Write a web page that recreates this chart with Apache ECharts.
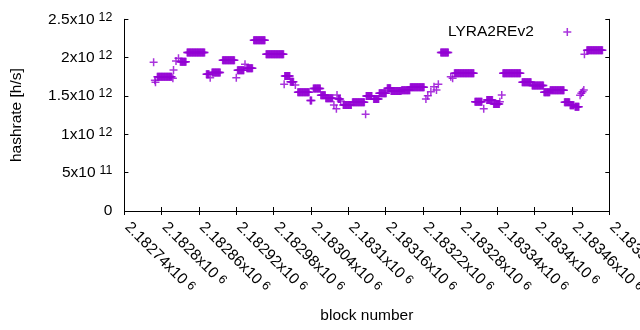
<!DOCTYPE html>
<html>
<head>
<meta charset="utf-8">
<script src="https://cdn.jsdelivr.net/npm/echarts@6/dist/echarts.min.js"></script>
<style>
  html, body { margin: 0; padding: 0; background: #fff; }
  #chart { width: 640px; height: 330px; }
</style>
</head>
<body>
<div id="chart"></div>
<script>
// hashrate stays flat over runs of blocks: first block, last block, value (x10^12 h/s)
const runStart = [
  2182787, 2182789, 2182790, 2182793, 2182818, 2182819, 2182823, 2182827, 2182830, 2182841,
  2182872, 2182878, 2182881, 2182898, 2182920, 2182922, 2182934, 2182937, 2182948, 2182968,
  2182997, 2182998, 2183007, 2183015, 2183019, 2183039, 2183044, 2183056, 2183064, 2183077,
  2183081, 2183082, 2183084, 2183088, 2183092, 2183107, 2183128, 2183129, 2183141, 2183150,
  2183163, 2183169, 2183186, 2183200, 2183225, 2183228, 2183233, 2183238, 2183242, 2183245,
  2183249, 2183265, 2183268, 2183271, 2183304, 2183318, 2183323, 2183334, 2183344, 2183347,
  2183349, 2183380, 2183396, 2183415, 2183425, 2183448, 2183457, 2183465, 2183473, 2183475,
  2183477, 2183479, 2183480, 2183484
]
const runEnd = [
  2182787, 2182789, 2182790, 2182816, 2182818, 2182819, 2182823, 2182827, 2182839, 2182869,
  2182876, 2182878, 2182894, 2182917, 2182920, 2182932, 2182934, 2182946, 2182966, 2182996,
  2182997, 2183006, 2183012, 2183015, 2183037, 2183041, 2183055, 2183063, 2183075, 2183077,
  2183081, 2183082, 2183087, 2183088, 2183105, 2183126, 2183128, 2183138, 2183149, 2183161,
  2183168, 2183185, 2183199, 2183222, 2183225, 2183228, 2183233, 2183238, 2183242, 2183245,
  2183261, 2183265, 2183268, 2183302, 2183315, 2183318, 2183332, 2183343, 2183344, 2183347,
  2183377, 2183394, 2183414, 2183424, 2183447, 2183456, 2183463, 2183471, 2183473, 2183475,
  2183477, 2183479, 2183480, 2183509
]
const runValue = [
  1.939, 1.705, 1.678, 1.751, 1.730, 1.839, 1.956, 1.991, 1.947, 2.067,
  1.783, 1.738, 1.806, 1.965, 1.738, 1.835, 1.913, 1.861, 2.226, 2.043,
  1.652, 1.762, 1.685, 1.643, 1.548, 1.440, 1.598, 1.511, 1.470, 1.382,
  1.335, 1.513, 1.460, 1.434, 1.382, 1.417, 1.261, 1.500, 1.460, 1.535,
  1.600, 1.565, 1.574, 1.613, 1.460, 1.504, 1.556, 1.621, 1.578, 1.652,
  2.068, 1.751, 1.730, 1.795, 1.425, 1.334, 1.447, 1.395, 1.425, 1.513,
  1.795, 1.678, 1.636, 1.548, 1.576, 1.417, 1.380, 1.360, 1.510, 1.534,
  1.556, 1.578, 2.043, 2.095
]
const seriesName = 'LYRA2REv2'
const xMin = 2182740
const xMax = 2183520
const xStep = 60
const yMax = 2.5e12
const yStep = 5e11

const purple = '#9400d3'
const font = 'Liberation Sans'
// gnuplot "+" point, drawn as a filled cross
const plus = 'path://M3.25,0h1.5v3.25h3.25v1.5h-3.25v3.25h-1.5v-3.25h-3.25v-1.5h3.25z'

// one point per block
const points = []
runStart.forEach((s, i) => {
  for (let b = s; b <= runEnd[i]; b++) points.push([b, runValue[i] * 1e12])
})

// gnuplot style 2.5x10^12
function sci (v) {
  if (v === 0) return '{b|0}'
  const e = Math.floor(Math.log10(v) + 1e-9)
  const m = parseFloat((v / Math.pow(10, e)).toPrecision(8))
  return '{b|' + m + 'x10}{s|' + e + '}'
}
const rich = {
  b: { fontSize: 15.5, fontFamily: font, color: '#000' },
  s: { fontSize: 12.4, fontFamily: font, color: '#000', verticalAlign: 'top', padding: [0, 0, 0, 4] }
}

const frameAxis = {
  axisLine: { show: true, lineStyle: { color: '#000', width: 1 } },
  axisTick: { show: true, inside: true, length: 4, lineStyle: { color: '#000' } },
  splitLine: { show: false }
}

const chart = echarts.init(document.getElementById('chart'))
chart.setOption({
  animation: false,
  grid: { left: 124.4, right: 30.7, top: 19.3, bottom: 119, outerBoundsMode: 'none' },
  legend: {
    data: [seriesName],
    right: 68.7,
    top: 24,
    padding: 0,
    align: 'right',
    icon: plus,
    itemWidth: 57,
    itemHeight: 8,
    symbolKeepAspect: true,
    textStyle: { fontSize: 15.5, fontFamily: font, color: '#000' }
  },
  xAxis: [
    Object.assign({}, frameAxis, {
      type: 'value',
      min: xMin,
      max: xMax,
      interval: xStep,
      name: 'block number',
      nameLocation: 'middle',
      nameGap: 97,
      nameMoveOverlap: false,
      nameTextStyle: { fontSize: 15.5, fontFamily: font, color: '#000' },
      axisLabel: {
        rotate: -45,
        align: 'left',
        verticalAlign: 'middle',
        margin: 11,
        padding: [0, 0, 0, 4],
        showMinLabel: true,
        showMaxLabel: true,
        formatter: sci,
        rich: rich
      }
    }),
    Object.assign({}, frameAxis, {
      type: 'value', position: 'top', min: xMin, max: xMax, interval: xStep,
      axisLabel: { show: false }
    })
  ],
  yAxis: [
    Object.assign({}, frameAxis, {
      type: 'value',
      min: 0,
      max: yMax,
      interval: yStep,
      name: 'hashrate [h/s]',
      nameLocation: 'middle',
      nameRotate: 90,
      nameGap: 100,
      nameMoveOverlap: false,
      nameTextStyle: { fontSize: 15.5, fontFamily: font, color: '#000' },
      axisLabel: { margin: 12, formatter: sci, rich: rich }
    }),
    Object.assign({}, frameAxis, {
      type: 'value', position: 'right', min: 0, max: yMax, interval: yStep,
      axisLabel: { show: false }
    })
  ],
  series: [
    {
      name: seriesName,
      type: 'scatter',
      xAxisIndex: 0,
      yAxisIndex: 0,
      symbol: plus,
      symbolSize: 8,
      itemStyle: { color: purple },
      silent: true,
      data: points
    }
  ]
})
</script>
</body>
</html>
